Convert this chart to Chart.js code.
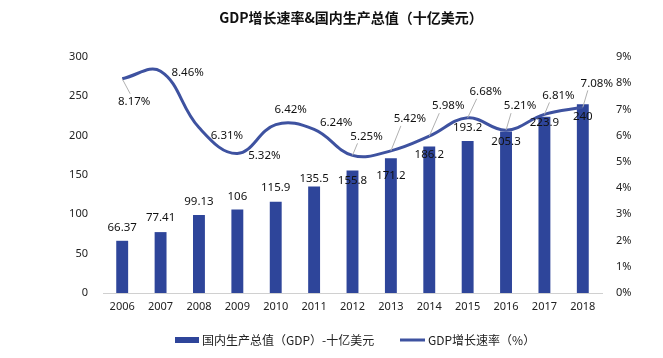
<!DOCTYPE html>
<html><head><meta charset="utf-8">
<script src="https://cdn.jsdelivr.net/npm/chart.js@4.4.0/dist/chart.umd.min.js"></script>
<style>html,body{margin:0;padding:0;background:#fff;}#wrap{width:663px;height:358px;}</style>
</head><body><div id="wrap"><canvas id="c" width="663" height="358"></canvas></div>
<script>
const years = ['2006','2007','2008','2009','2010','2011','2012','2013','2014','2015','2016','2017','2018'];
const gdp = [66.37, 77.41, 99.13, 106, 115.9, 135.5, 155.8, 171.2, 186.2, 193.2, 205.3, 223.9, 240];
const gdpText = ['66.37','77.41','99.13','106','115.9','135.5','155.8','171.2','186.2','193.2','205.3','223.9','240'];
const rates = [8.17, 8.46, 6.31, 5.32, 6.42, 6.24, 5.25, 5.42, 5.98, 6.68, 6.21, 6.81, 7.08];
const rateText = ['8.17%','8.46%','6.31%','5.32%','6.42%','6.24%','5.25%','5.42%','5.98%','6.68%','5.21%','6.81%','7.08%'];
const leftTicks = [0,50,100,150,200,250,300];
const rightTicks = [0,1,2,3,4,5,6,7,8,9];

// label placement (px offsets from marks)
const barLabelDy = [-13,-14,-13,-13,-14,-8,10,17,8,-13,10,6,13];
const rateLabelOff = [[12,23],[27,2],[28,8],[27,2],[15,-15],[22,-7],[14,-19],[19,-32],[19,-30],[18,-26],[14,-24],[14,-19],[14,-24]];
const rateLeader = [true,false,false,false,false,false,true,true,true,true,true,true,true];

const BAR = '#2E459A', LINE = '#3E52A0';
const FONT = '"Noto Sans","DejaVu Sans",sans-serif';

const labelPlugin = {
  id:'labels',
  afterDatasetsDraw(chart){
    const ctx = chart.ctx;
    ctx.save();
    ctx.font = '11.5px ' + FONT;
    ctx.fillStyle = '#111';
    ctx.textAlign = 'center'; ctx.textBaseline = 'middle';
    const bars = chart.getDatasetMeta(0).data;
    bars.forEach((b,i)=>{ ctx.fillText(gdpText[i], b.x, b.y + barLabelDy[i]); });
    const pts = chart.getDatasetMeta(1).data;
    pts.forEach((p,i)=>{
      const cx = p.x + rateLabelOff[i][0], cy = p.y + rateLabelOff[i][1];
      if (rateLeader[i]) {
        ctx.strokeStyle = '#b0b0b0'; ctx.lineWidth = 1;
        ctx.beginPath(); ctx.moveTo(p.x, p.y);
        if (rateLabelOff[i][1] > 0) ctx.lineTo(cx - 4, cy - 8);
        else ctx.lineTo(cx - 9, cy + 7);
        ctx.stroke();
      }
      ctx.fillStyle = '#111';
      ctx.fillText(rateText[i], cx, cy);
    });
    ctx.restore();
  },
  afterDraw(chart){
    const ctx = chart.ctx;
    ctx.save();
    ctx.fillStyle = '#111';
    ctx.font = 'bold 14px "Noto Sans CJK SC",' + FONT;
    ctx.textAlign = 'center'; ctx.textBaseline = 'middle';
    ctx.fillText('GDP增长速率&国内生产总值（十亿美元）', 351, 18);
    // legend
    ctx.font = '12px "Noto Sans CJK SC",' + FONT;
    ctx.textAlign = 'left';
    ctx.fillStyle = BAR;
    ctx.fillRect(175, 337, 24, 6);
    ctx.fillStyle = '#222';
    ctx.fillText(chart.data.datasets[0].label, 202, 340);
    ctx.strokeStyle = LINE; ctx.lineWidth = 3;
    ctx.beginPath(); ctx.moveTo(400, 340); ctx.lineTo(425, 340); ctx.stroke();
    ctx.fillStyle = '#222';
    ctx.fillText(chart.data.datasets[1].label, 428, 340);
    ctx.restore();
  }
};

new Chart(document.getElementById('c'), {
  data: {
    labels: years,
    datasets: [
      { type:'bar', label:'国内生产总值（GDP）-十亿美元', data: gdp, backgroundColor: BAR, yAxisID:'y',
        barPercentage:0.31, categoryPercentage:1, order:2 },
      { type:'line', label:'GDP增长速率（%）', data: rates, borderColor: LINE, borderWidth:3, yAxisID:'y1',
        tension:0.4, pointRadius:0, fill:false, order:1 }
    ]
  },
  options: {
    responsive:false, animation:false,
    layout:{ padding:{ top:57, left:0, right:0, bottom:0 } },
    plugins:{ legend:{display:false}, title:{display:false}, tooltip:{enabled:false} },
    scales:{
      x:{ grid:{display:false, drawTicks:false}, border:{display:true, color:'#d0d0d0', width:1},
          ticks:{ color:'#222', font:{size:11, family:FONT}, padding:7, maxRotation:0 },
          afterFit(s){ s.height = 65; } },
      y:{ position:'left', min:0, max:300, afterBuildTicks(s){ s.ticks = leftTicks.map(v=>({value:v})); },
          grid:{display:false, drawTicks:false}, border:{display:false},
          ticks:{ color:'#222', font:{size:11, family:FONT}, padding:15 },
          afterFit(s){ s.width = 103; } },
      y1:{ position:'right', min:0, max:9, afterBuildTicks(s){ s.ticks = rightTicks.map(v=>({value:v})); },
          grid:{display:false, drawTicks:false}, border:{display:false},
          ticks:{ color:'#222', font:{size:11, family:FONT}, padding:14, callback:v=>v+'%' },
          afterFit(s){ s.width = 61; } }
    }
  },
  plugins:[labelPlugin]
});
</script></body></html>
